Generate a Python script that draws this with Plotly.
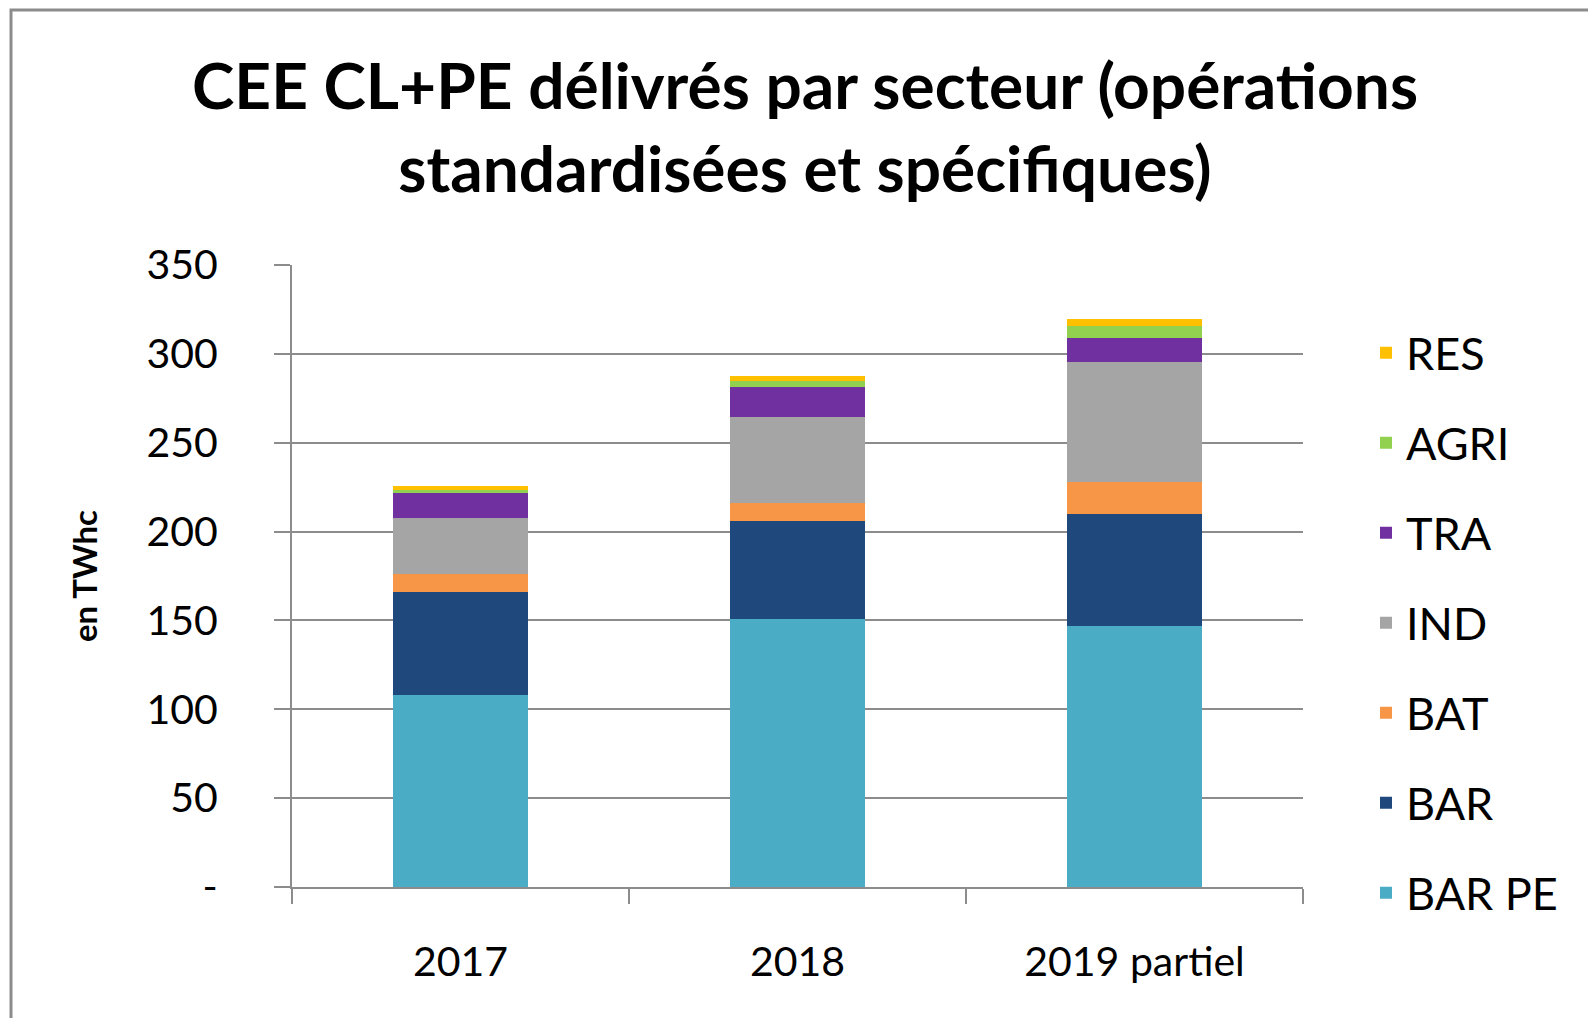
import plotly.graph_objects as go

categories = ["2017", "2018", "2019 partiel"]
bar_pe = [108, 151, 147]
bar = [58, 54.7, 63]
bat = [10.3, 10.5, 18]
ind = [31.5, 48.4, 67.3]
tra = [14, 16.9, 13.7]
agri = [1.8, 3.0, 6.4]
res = [2.3, 3.2, 4.3]

series = [
    ("BAR PE", bar_pe, "#4BACC6"),
    ("BAR", bar, "#1F497D"),
    ("BAT", bat, "#F79646"),
    ("IND", ind, "#A5A5A5"),
    ("TRA", tra, "#7030A0"),
    ("AGRI", agri, "#92D050"),
    ("RES", res, "#FFC000"),
]

tick_vals = [0, 50, 100, 150, 200, 250, 300, 350]
tick_text = ["-", "50", "100", "150", "200", "250", "300", "350"]

OFF = 8  # page body margin
W, H = 1580, 1010
X0, X1, Y0, Y1 = 292, 1303, 265, 887  # plot area in page pixels
L, T = X0 - OFF, Y0 - OFF
R, B = W - (X1 - OFF), H - (Y1 - OFF)
pw, ph = X1 - X0, Y1 - Y0

def px_x(x):
    return (x - X0) / pw

def px_y(y):
    return (Y1 - y) / ph

fig = go.Figure()
for i, (name, vals, col) in enumerate(series):
    fig.add_trace(go.Bar(x=categories, y=vals, name=name, legendgroup=name,
                         legendrank=1000 - i,
                         marker=dict(color=col, line=dict(width=0))))

grid_col = "#8c8c8c"
fig.update_layout(
    width=W, height=H,
    barmode="stack", bargap=0.6,
    margin=dict(l=L, r=R, t=T, b=B),
    paper_bgcolor="white", plot_bgcolor="white",
    font=dict(family="Lato", color="black"),
    legend=dict(traceorder="grouped", tracegroupgap=28.5, maxheight=1000,
                x=px_x(1366), xanchor="left", y=px_y(317), yanchor="top",
                font=dict(size=45, family="Lato"), bgcolor="rgba(0,0,0,0)"),
    xaxis=dict(showline=True, linecolor=grid_col, linewidth=2,
               ticks="outside", tickson="boundaries", ticklen=15, tickcolor=grid_col,
               tickwidth=2,
               tickfont=dict(size=41, family="Lato"), ticklabelstandoff=38,
               showgrid=False),
    yaxis=dict(range=[0, 350], tickvals=tick_vals, ticktext=tick_text,
               showline=True, linecolor=grid_col, linewidth=2,
               showgrid=True, gridcolor=grid_col, gridwidth=1.5,
               ticks="outside", ticklen=16, tickcolor=grid_col, tickwidth=1.5,
               tickfont=dict(size=41, family="Lato"), ticklabelstandoff=48,
               zeroline=False),
    annotations=[
        dict(text="CEE CL+PE délivrés par secteur (opérations<br>standardisées et spécifiques)",
             x=px_x(805), y=px_y(126), xref="paper", yref="paper",
             xanchor="center", yanchor="middle", showarrow=False,
             font=dict(size=64, family="Lato", color="black", weight="bold")),
        dict(text="en TWhc", x=px_x(84), y=px_y(576), xref="paper", yref="paper",
             textangle=-90, xanchor="center", yanchor="middle", showarrow=False,
             font=dict(size=33, family="Lato", color="black", weight="bold")),
    ],
    shapes=[dict(type="rect", xref="paper", yref="paper",
                 x0=px_x(11), x1=px_x(1700), y0=px_y(1100), y1=px_y(10),
                 line=dict(color="#8c8c8c", width=3), fillcolor="rgba(0,0,0,0)", layer="below")],
)

fig.write_html("out.html")
